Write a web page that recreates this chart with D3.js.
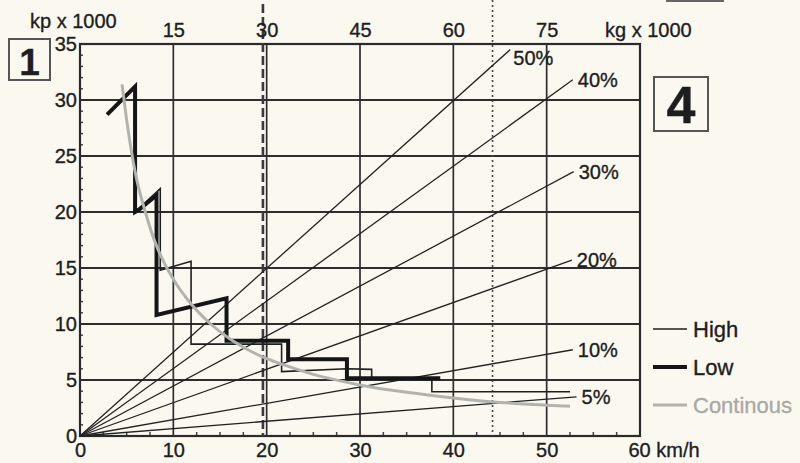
<!DOCTYPE html>
<html>
<head>
<meta charset="utf-8">
<script src="https://cdn.jsdelivr.net/npm/d3@7"></script>
<style>
  html, body { margin: 0; padding: 0; background: #fbf9ef; }
  svg { display: block; }
  text { font-family: "Liberation Sans", Arial, Helvetica, sans-serif; fill: #1e1e1e; stroke: #1e1e1e; stroke-width: 0.35px; }
</style>
</head>
<body>
<svg id="chart" width="800" height="463"></svg>
<script>
// ---- data ----
const speedTicks = [0, 10, 20, 30, 40, 50, 60];          // km/h
const forceTicks = [0, 5, 10, 15, 20, 25, 30, 35];       // kp x 1000
const weightTicks = [15, 30, 45, 60, 75];                // kg x 1000 (top axis)

const gradeLabels = ["50%", "40%", "30%", "20%", "10%", "5%"];
const gradeEndSpeed = [46.1, 52.8, 52.9, 52.7, 52.8, 53.2];
const gradeEndForce = [34.5, 31.8, 23.6, 15.7, 7.7, 3.5];

// High gear steps (thin)
const highSpeed = [5.9, 8.6, 8.6, 11.9, 11.9, 21.6, 21.6, 28.6, 31.25, 31.25, 37.7, 37.7, 52.5];
const highForce = [20.0, 22.1, 14.8, 15.6, 8.2, 8.2, 5.75, 6.0, 5.95, 5.15, 5.15, 3.95, 3.95];

// Low gear steps (thick)
const lowSpeed = [2.9, 5.9, 5.9, 6.3, 8.2, 8.2, 15.7, 15.7, 22.3, 22.3, 28.6, 28.6, 38.6];
const lowForce = [28.7, 31.2, 20.0, 20.2, 21.5, 10.8, 12.3, 8.5, 8.5, 6.85, 6.85, 5.15, 5.15];

// Continuous curve (grey)
const contSpeed = [4.5, 5.0, 6.0, 7.0, 8.0, 9.0, 10, 12, 14, 16, 18, 20, 22, 25, 28, 31, 35, 40, 45, 50, 52.5];
const contForce = [31.4, 28.2, 23.2, 20.0, 17.4, 15.5, 14.0, 11.7, 10.0, 8.7, 7.7, 6.9, 6.3, 5.5, 4.9, 4.4, 3.9, 3.4, 3.0, 2.75, 2.65];

const dashedSpeed = 19.6;   // dashed vertical marker
const dottedSpeed = 44.2;   // dotted vertical marker

const legendNames = ["High", "Low", "Continous"];

// ---- scales ----
const svg = d3.select("#chart");
const x = d3.scaleLinear().domain([0, 60]).range([80, 640]);
const y = d3.scaleLinear().domain([0, 35]).range([436, 44]);
const xKg = d3.scaleLinear().domain([0, 90]).range([80, 640]);

const ink = "#222";

// grid
const g = svg.append("g");
g.selectAll("line.vg").data(speedTicks.filter(d => d > 0 && d < 60)).join("line")
  .attr("x1", d => x(d)).attr("x2", d => x(d)).attr("y1", y(35)).attr("y2", y(0))
  .attr("stroke", "#2e2e2e").attr("stroke-width", 1.7);
g.selectAll("line.hg").data(forceTicks.filter(d => d > 0 && d < 35)).join("line")
  .attr("x1", x(0)).attr("x2", x(60)).attr("y1", d => y(d)).attr("y2", d => y(d))
  .attr("stroke", "#2e2e2e").attr("stroke-width", 1.9);

// minor ticks
const minorY = d3.range(1, 35).filter(d => d % 5 !== 0);
g.selectAll("line.my").data(minorY).join("line")
  .attr("x1", x(0)).attr("x2", x(0) + 3).attr("y1", d => y(d)).attr("y2", d => y(d))
  .attr("stroke", "#444").attr("stroke-width", 1.5);
const minorX = d3.range(2.5, 60, 2.5).filter(d => d % 10 !== 0);
g.selectAll("line.mx").data(minorX).join("line")
  .attr("x1", d => x(d)).attr("x2", d => x(d)).attr("y1", y(0)).attr("y2", y(0) - 4)
  .attr("stroke", "#444").attr("stroke-width", 1.5);

// frame
svg.append("rect").attr("x", x(0)).attr("y", y(35))
  .attr("width", x(60) - x(0)).attr("height", y(0) - y(35))
  .attr("fill", "none").attr("stroke", "#2a2a2a").attr("stroke-width", 2.2);

// dashed & dotted vertical markers
svg.append("line").attr("x1", x(dashedSpeed)).attr("x2", x(dashedSpeed))
  .attr("y1", 4).attr("y2", y(0)).attr("stroke", "#3a3a3a").attr("stroke-width", 2.6)
  .attr("stroke-dasharray", "9,4");
svg.append("line").attr("x1", x(dottedSpeed)).attr("x2", x(dottedSpeed))
  .attr("y1", 0).attr("y2", y(0)).attr("stroke", "#444").attr("stroke-width", 1.6)
  .attr("stroke-dasharray", "2,3");

// grade lines
const grades = gradeLabels.map((l, i) => ({ l, v: gradeEndSpeed[i], f: gradeEndForce[i], i }));
svg.append("g").selectAll("line").data(grades).join("line")
  .attr("x1", x(0)).attr("y1", y(0)).attr("x2", d => x(d.v)).attr("y2", d => y(d.f))
  .attr("stroke", ink).attr("stroke-width", 1.3);
svg.append("g").selectAll("text").data(grades).join("text")
  .attr("x", d => x(d.v) + (d.i === 0 ? 3 : 5))
  .attr("y", d => y(d.f) + (d.i === 0 ? 15 : 7))
  .attr("font-size", 20).text(d => d.l);

// step curves
const line = d3.line().x(d => x(d[0])).y(d => y(d[1]));
const highPts = highSpeed.map((v, i) => [v, highForce[i]]);
const lowPts = lowSpeed.map((v, i) => [v, lowForce[i]]);
const contPts = contSpeed.map((v, i) => [v, contForce[i]]);

svg.append("path").datum(highPts).attr("d", line)
  .attr("fill", "none").attr("stroke", "#1e1e1e").attr("stroke-width", 1.6).attr("stroke-linejoin", "miter");
svg.append("path").datum(lowPts).attr("d", line)
  .attr("fill", "none").attr("stroke", "#151515").attr("stroke-width", 4).attr("stroke-linejoin", "miter");
svg.append("path").datum(contPts).attr("d", line.curve(d3.curveMonotoneX))
  .attr("fill", "none").attr("stroke", "#b3b3ae").attr("stroke-width", 3);

// axes
const axB = svg.append("g").attr("transform", `translate(0,${y(0)})`)
  .call(d3.axisBottom(x).tickValues(speedTicks).tickSize(0).tickPadding(7)
    .tickFormat(d => d === 60 ? "60 km/h" : d));
axB.select(".domain").remove();
axB.selectAll("text").attr("font-size", 20).attr("fill", "#1e1e1e")
  .attr("font-family", "Liberation Sans, Arial, sans-serif");
axB.selectAll(".tick").filter(d => d === 60).select("text")
  .attr("text-anchor", "start").attr("x", -12);

const axL = svg.append("g").attr("transform", `translate(${x(0)},0)`)
  .call(d3.axisLeft(y).tickValues(forceTicks).tickSize(0).tickPadding(3));
axL.select(".domain").remove();
axL.selectAll("text").attr("font-size", 20).attr("fill", "#1e1e1e")
  .attr("font-family", "Liberation Sans, Arial, sans-serif");

const axT = svg.append("g").attr("transform", `translate(0,${y(35)})`)
  .call(d3.axisTop(xKg).tickValues(weightTicks).tickSize(0).tickPadding(7));
axT.select(".domain").remove();
axT.selectAll("text").attr("font-size", 20).attr("fill", "#1e1e1e")
  .attr("font-family", "Liberation Sans, Arial, sans-serif");

svg.append("text").attr("x", 30).attr("y", 28).attr("font-size", 20).text("kp x 1000");
svg.append("text").attr("x", 605).attr("y", 37).attr("font-size", 20).text("kg x 1000");

// panel boxes
svg.append("rect").attr("x", 9).attr("y", 39).attr("width", 41).attr("height", 41)
  .attr("fill", "none").attr("stroke", "#555").attr("stroke-width", 2);
svg.append("text").attr("x", 29.5).attr("y", 75).attr("text-anchor", "middle")
  .attr("font-size", 37).attr("font-weight", "bold").text("1");
svg.append("rect").attr("x", 654).attr("y", 77).attr("width", 54).attr("height", 54)
  .attr("fill", "none").attr("stroke", "#555").attr("stroke-width", 2);
svg.append("text").attr("x", 681).attr("y", 123).attr("text-anchor", "middle")
  .attr("font-size", 52).attr("font-weight", "bold").text("4");
svg.append("rect").attr("x", 667).attr("y", -40).attr("width", 56).attr("height", 41)
  .attr("fill", "none").attr("stroke", "#666").attr("stroke-width", 2);

// legend
const legStyles = [
  { w: 1.6, c: "#1e1e1e", t: "#1e1e1e" },
  { w: 4, c: "#151515", t: "#1e1e1e" },
  { w: 3, c: "#b3b3ae", t: "#a9a9a4" }
];
const legY = [329, 367, 405];
const leg = svg.append("g").selectAll("g").data(legendNames).join("g")
  .attr("transform", (d, i) => `translate(653,${legY[i]})`);
leg.append("line").attr("x1", 0).attr("x2", 34).attr("y1", 0).attr("y2", 0)
  .attr("stroke", (d, i) => legStyles[i].c).attr("stroke-width", (d, i) => legStyles[i].w);
leg.append("text").attr("x", 40).attr("y", 8).attr("font-size", 22)
  .style("fill", (d, i) => legStyles[i].t).style("stroke", (d, i) => legStyles[i].t).text(d => d);
</script>
</body>
</html>
